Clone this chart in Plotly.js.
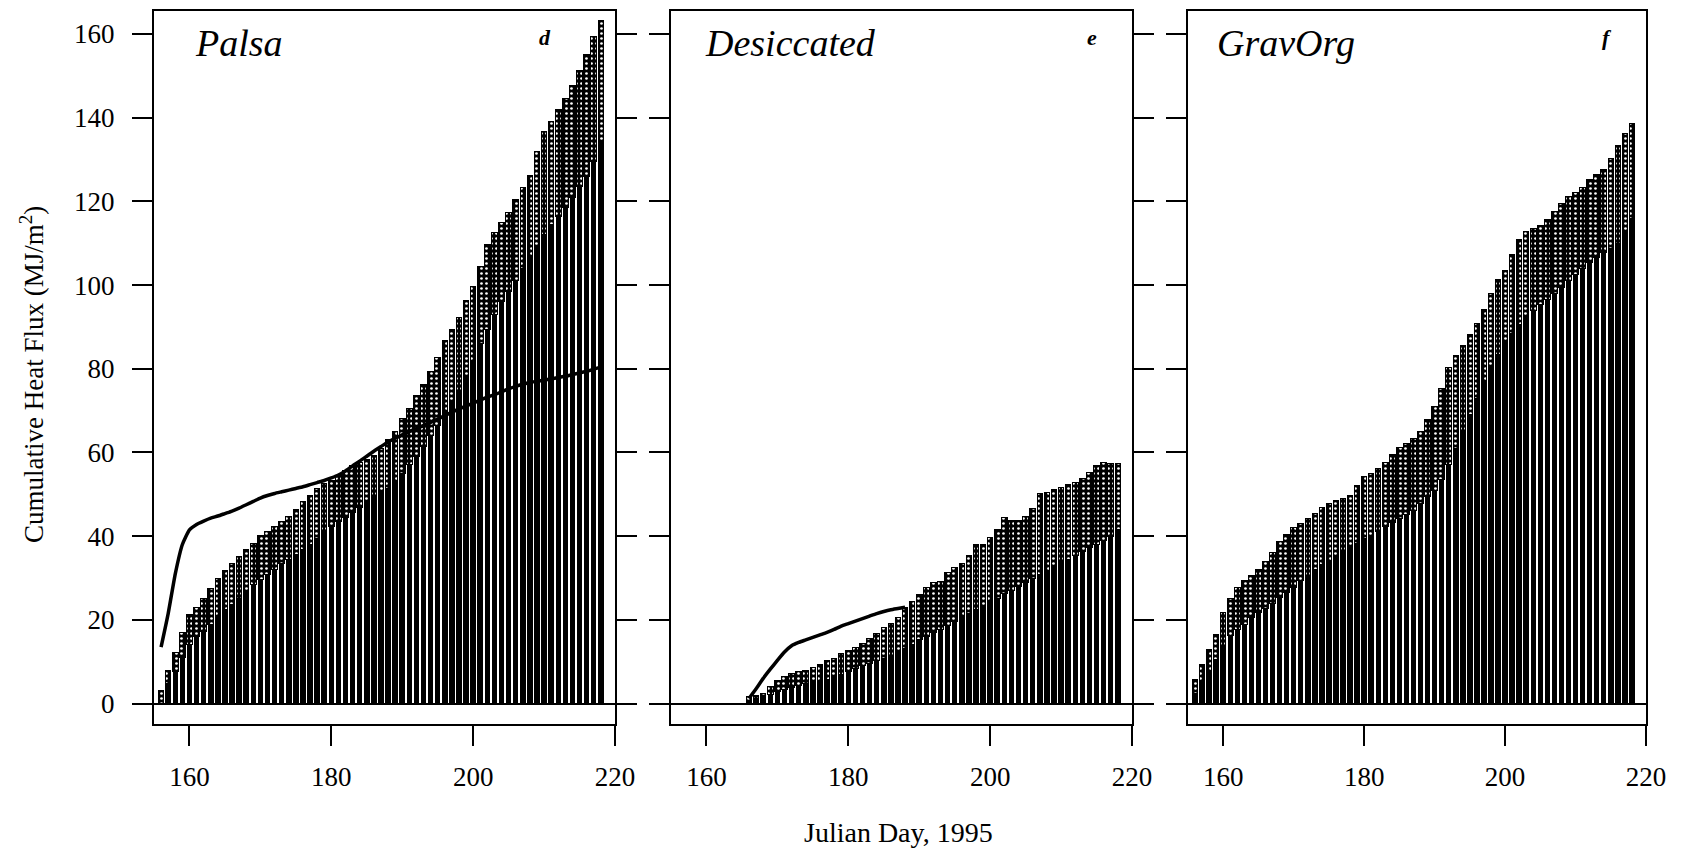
<!DOCTYPE html>
<html>
<head>
<meta charset="utf-8">
<script src="https://cdn.plot.ly/plotly-3.0.1.min.js"></script>
<style>html,body{margin:0;padding:0;background:#fff;}#chart{width:1682px;height:857px;}</style>
</head>
<body>
<div id="chart"></div>
<script>
// ---------- DATA ----------
// Palsa: days 156..218
const palsaDays = [156,157,158,159,160,161,162,163,164,165,166,167,168,169,170,171,172,173,174,175,176,177,178,179,180,181,182,183,184,185,186,187,188,189,190,191,192,193,194,195,196,197,198,199,200,201,202,203,204,205,206,207,208,209,210,211,212,213,214,215,216,217,218];
const palsaTotal = [3,8,12.2,17,21.3,23,25,27.5,29.8,31.7,33.5,35.1,36.7,38.3,40.1,41.1,42.2,43.5,44.8,46.4,48.2,49.7,51.3,52.6,53.4,54.6,55.8,56.8,57.5,58.2,59.2,60.9,63.0,65.1,68.1,70.4,73.6,76.3,79.3,82.8,86.8,89.4,92.3,96.2,99.6,104.5,109.8,112.6,115,117.4,120.5,123.4,126.1,132,136.8,139.1,142,144.7,147.8,151.4,155.1,159.4,163.3];
const palsaLower = [0,4.8,7.6,11,14,16,17.2,18.8,20.8,22.4,23.6,25.2,27,28.4,29.6,30.8,32,33.4,34.4,35.6,36.8,38,39.4,40.8,42.4,43.6,44.4,45.6,46.8,48,49.2,50.4,51.5,53,55,57,59,61.5,64,66.5,69.5,72,74.5,78,82,86,89.5,93,96,98.5,101,104,107,109.5,112,114.5,116.5,118.5,121,123.5,126,129.5,134];
const palsaLine = [13.5,21.5,31,38,41.5,42.8,43.6,44.3,44.8,45.4,46,46.7,47.5,48.3,49.1,49.7,50.2,50.6,51,51.4,51.8,52.3,52.8,53.3,53.9,54.6,55.6,56.8,57.9,59.1,60.3,61.4,62.5,63.4,64.2,65,65.7,66.4,67.2,68,68.8,69.6,70.4,71.1,71.8,72.5,73.2,73.8,74.5,75.2,75.8,76.3,76.7,77,77.3,77.6,77.9,78.2,78.6,79,79.4,79.9,80.4];

// Desiccated: days 166..218
const desDays = [166,167,168,169,170,171,172,173,174,175,176,177,178,179,180,181,182,183,184,185,186,187,188,189,190,191,192,193,194,195,196,197,198,199,200,201,202,203,204,205,206,207,208,209,210,211,212,213,214,215,216,217,218];
const desTotal = [1.6,2.0,2.5,4.0,5.5,6.4,7.2,7.6,8.0,8.6,9.4,10.2,10.8,12.0,12.7,13.3,14.3,15.5,16.7,18.1,19.1,20.5,22.9,24.4,26.0,27.8,28.9,29.2,31.3,32.5,33.5,35.4,37.9,37.9,39.7,41.5,44.5,43.7,43.7,44.7,46.5,50.1,50.5,51.1,51.6,52.4,52.7,53.7,55.2,56.9,57.7,57.3,57.3];
const desLower = [0.8,1.2,1.6,2.2,2.8,3.3,3.8,4.3,4.7,5.0,5.3,5.8,6.4,7.0,7.6,8.3,9.0,9.6,10.2,10.8,11.5,12.3,13.2,14.2,15.2,16.0,17.0,17.8,18.7,19.6,20.6,21.5,22.4,23.3,24.2,25.2,26.2,27.0,27.9,28.8,29.8,30.8,31.7,32.6,33.6,34.5,35.4,36.3,37.2,38.0,38.9,40.0,41.5];
const desLineDays = [166,167,168,169,170,171,172,173,174,175,176,177,178,179,180,181,182,183,184,185,186,187,188];
const desLine = [1.2,3.5,6,8.2,10.3,12.3,13.8,14.6,15.2,15.8,16.4,17.0,17.7,18.5,19.1,19.7,20.3,20.9,21.5,22.0,22.4,22.7,23.0];

// GravOrg: days 156..218
const gravDays = palsaDays;
const gravTotal = [5.8,9.4,12.8,16.4,21.8,25,27.8,29.4,30.6,32,34,36.2,38.6,40.4,42.1,43,44.2,45.4,46.9,47.7,48.4,49,49.8,52,54.2,55,56.1,57.7,59.6,61.2,62.2,63.3,65,67.8,71,75.2,80.2,83.2,85.6,88.1,90.7,94.1,98.1,101.3,103.6,107.2,110.8,112.8,113.6,114.3,115.6,117.6,119.6,121.2,122.2,123.3,125.2,126.5,127.7,130.2,133.4,136.2,138.7];
const gravLower = [2.5,5,7.4,10.6,13.8,16.2,17.8,19,20.6,21.8,22.6,23.8,25.4,26.6,27.8,29.4,30.6,32,33.2,34.2,35.4,36.4,37.4,38.2,39.4,40.2,41.2,42.2,43.2,44.2,45.2,46.2,47.8,49.5,51,53.5,57,61,65,69,73,77,80.5,83.5,86.5,88.5,90.5,92.5,94,95.3,96.5,98,99.5,101,102.5,104,105.3,106.5,107.7,108.8,110,112.5,116];

const panelNames = ["Palsa","Desiccated","GravOrg"];
const panelLetters = ["d","e","f"];
const xTicks = [160,180,200,220];
const yTicks = [0,20,40,60,80,100,120,140,160];
const xTitle = "Julian Day, 1995";
const yTitle = "Cumulative Heat Flux (MJ/m<sup>2</sup>)";

// ---------- BUILD ----------
const serif = "Liberation Serif";
function diff(a,b){ return a.map((v,i)=>Math.max(0, v-b[i])); }
function lowerTrace(x,y,ax){
  return {type:'bar', x:x, y:y, xaxis:'x'+ax, yaxis:'y'+ax,
    marker:{color:'black', line:{color:'black', width:0}}, hoverinfo:'skip'};
}
function upperTrace(x,y,ax){
  return {type:'bar', x:x, y:y, xaxis:'x'+ax, yaxis:'y'+ax,
    marker:{color:'black', line:{color:'black', width:1},
      pattern:{shape:'.', fgcolor:'white', bgcolor:'black', size:5, solidity:0.22, fillmode:'replace'}},
    hoverinfo:'skip'};
}
function lineTrace(x,y,ax){
  return {type:'scatter', mode:'lines', x:x, y:y, xaxis:'x'+ax, yaxis:'y'+ax,
    line:{color:'black', width:3.5, shape:'spline', smoothing:0.5}, hoverinfo:'skip'};
}

const traces = [
  lowerTrace(palsaDays, palsaLower, ''), upperTrace(palsaDays, diff(palsaTotal,palsaLower), ''),
  lineTrace(palsaDays, palsaLine, ''),
  lowerTrace(desDays, desLower, '2'), upperTrace(desDays, diff(desTotal,desLower), '2'),
  lineTrace(desLineDays, desLine, '2'),
  lowerTrace(gravDays, gravLower, '3'), upperTrace(gravDays, diff(gravTotal,gravLower), '3')
];

const W = 1682, H = 857;
const xDomains = [[154/W, 615/W],[671/W, 1132/W],[1188/W, 1646/W]];
const yDomain = [1-724/H, 1-11/H];

function xaxis(i){
  return {domain:xDomains[i], range:[155,220], tickvals:xTicks, ticktext:xTicks.map(String),
    ticks:'outside', ticklen:20, tickwidth:2, tickcolor:'black',
    showline:true, linewidth:2, linecolor:'black', mirror:true,
    showgrid:false, zeroline:false, ticklabelstandoff:8,
    tickfont:{family:serif, size:27, color:'black'}, anchor: i===0?'y':'y'+(i+1), fixedrange:true};
}
function yaxis(i){
  return {domain:yDomain, range:[-4.9,165.5], tickvals:yTicks, ticktext:yTicks.map(String),
    ticks:'outside', ticklen:20, tickwidth:2, tickcolor:'black',
    showline:true, linewidth:2, linecolor:'black', mirror: i<2 ? 'ticks' : true,
    showgrid:false, zeroline:true, zerolinecolor:'black', zerolinewidth:2,
    showticklabels: i===0, ticklabelstandoff:12,
    tickfont:{family:serif, size:27, color:'black'}, anchor: i===0?'x':'x'+(i+1), fixedrange:true};
}

const nameX = [193/W, 703/W, 1215/W];
const letterX = [545/W, 1092/W, 1607/W];
const annotations = [];
for (let i=0;i<3;i++){
  annotations.push({xref:'paper', yref:'paper', x:nameX[i], y:1-43/H, xanchor:'left', yanchor:'middle',
    text:panelNames[i], showarrow:false, font:{family:serif, size:38, color:'black', style:'italic'}});
  annotations.push({xref:'paper', yref:'paper', x:letterX[i], y:1-37/H, xanchor:'center', yanchor:'middle',
    text:panelLetters[i], showarrow:false, font:{family:serif, size:22, color:'black', style:'italic', weight:'bold'}});
}
annotations.push({xref:'paper', yref:'paper', x:899/W, y:1-832/H, xanchor:'center', yanchor:'middle',
  text:xTitle, showarrow:false, font:{family:serif, size:28, color:'black'}});
annotations.push({xref:'paper', yref:'paper', x:32/W, y:1-375/H, xanchor:'center', yanchor:'middle',
  text:yTitle, textangle:-90, showarrow:false, font:{family:serif, size:27, color:'black'}});

const layout = {
  width:W, height:H, margin:{l:0,r:0,t:0,b:0},
  paper_bgcolor:'white', plot_bgcolor:'white',
  barmode:'stack', bargap:0.22, showlegend:false,
  xaxis:xaxis(0), xaxis2:xaxis(1), xaxis3:xaxis(2),
  yaxis:yaxis(0), yaxis2:yaxis(1), yaxis3:yaxis(2),
  annotations:annotations
};

Plotly.newPlot('chart', traces, layout, {displayModeBar:false, staticPlot:true});
</script>
</body>
</html>
